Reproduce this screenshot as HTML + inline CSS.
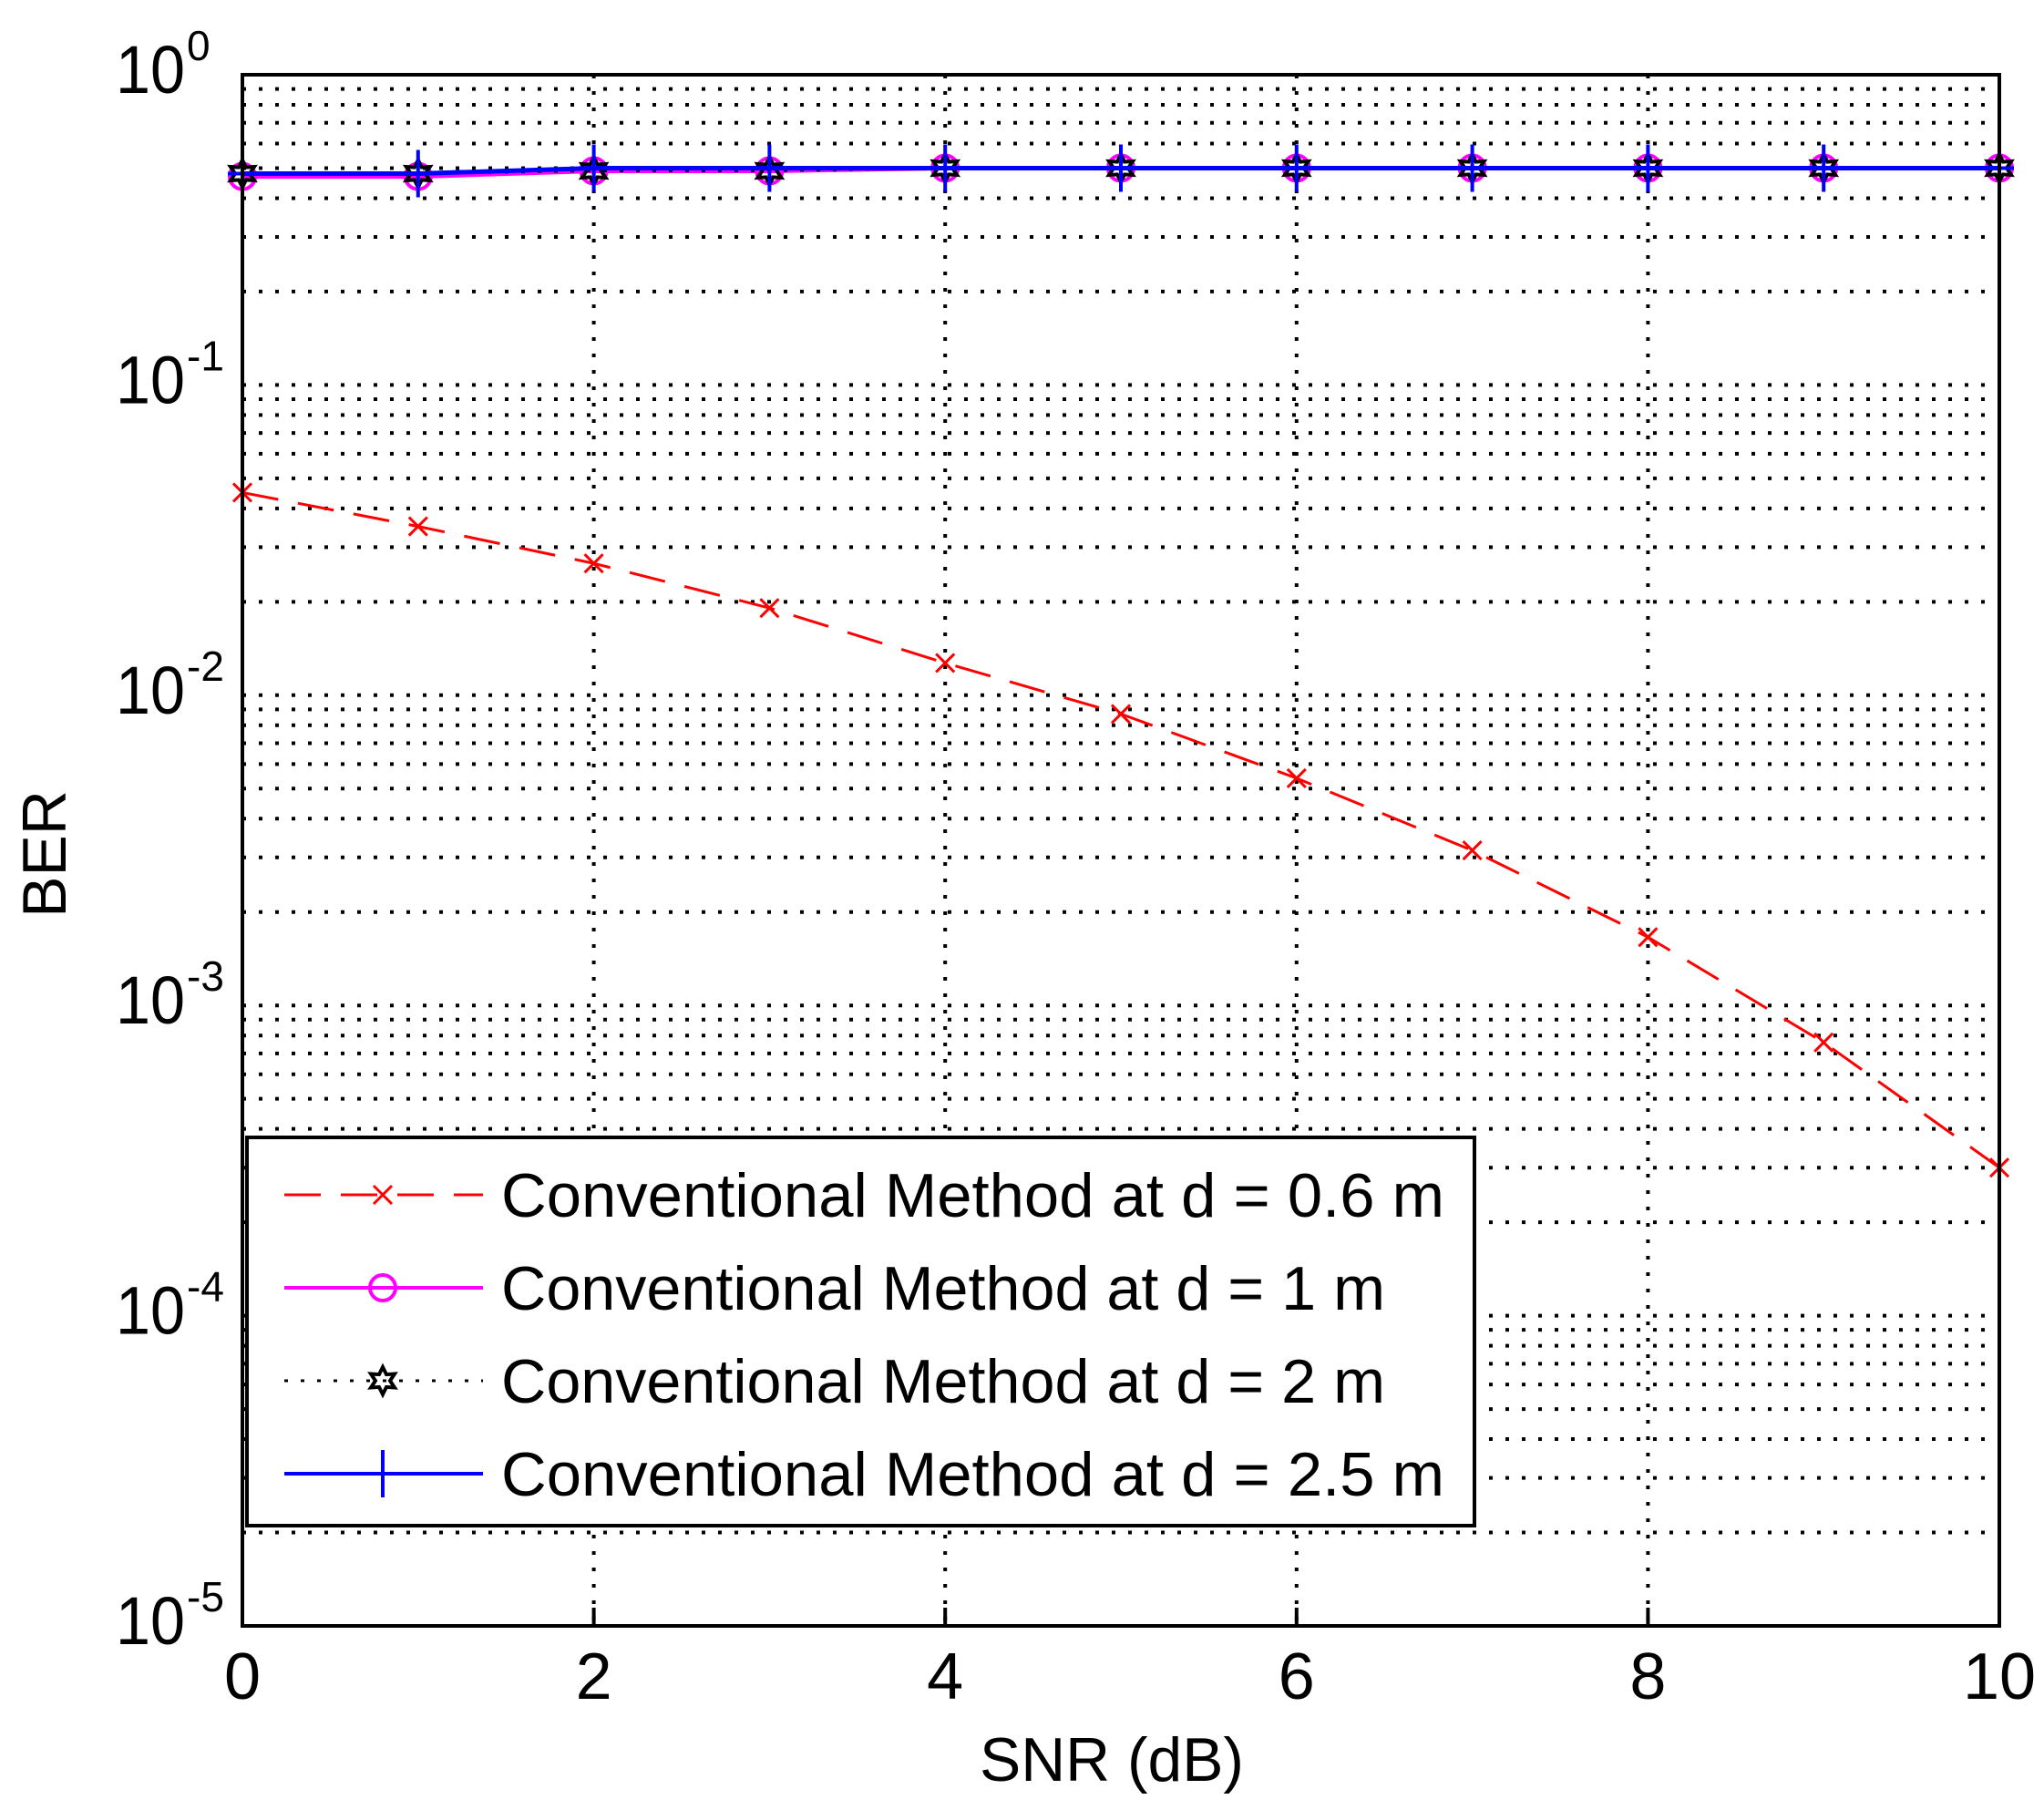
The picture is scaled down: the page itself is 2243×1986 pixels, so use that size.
<!DOCTYPE html>
<html><head><meta charset="utf-8"><style>html,body{margin:0;padding:0;background:#fff}svg{display:block}</style></head>
<body>
<svg id="chart" xmlns="http://www.w3.org/2000/svg" width="2243" height="1986" viewBox="0 0 2243 1986" font-family="'Liberation Sans', sans-serif">
<rect width="2243" height="1986" fill="#fff"/>
<g id="grid"></g>
<g id="series"></g>
<rect x="266" y="82" width="1928" height="1702" fill="none" stroke="#000" stroke-width="4"/>
<g id="ticks"></g>
<text x="1220" y="1954" font-size="68" text-anchor="middle" textLength="290" lengthAdjust="spacingAndGlyphs">SNR (dB)</text>
<text transform="translate(72,937) rotate(-90)" font-size="68" text-anchor="middle">BER</text>
<g id="legend"></g>
</svg>
<script>
const snr = [0,1,2,3,4,5,6,7,8,9,10];
const ber06 = [0.045,0.035,0.0266,0.0191,0.0127,0.0087,0.0054,0.00316,0.00166,0.00076,0.0003];
const ber1 = [0.47,0.47,0.49,0.49,0.5,0.5,0.5,0.5,0.5,0.5,0.5];
const ber2 = [0.48,0.48,0.49,0.49,0.5,0.5,0.5,0.5,0.5,0.5,0.5];
const ber25 = [0.48,0.48,0.5,0.5,0.5,0.5,0.5,0.5,0.5,0.5,0.5];
const xTicks = [0,2,4,6,8,10];
const yExps = [0,-1,-2,-3,-4,-5];
const legendLabels = ["Conventional Method at d = 0.6 m","Conventional Method at d = 1 m","Conventional Method at d = 2 m","Conventional Method at d = 2.5 m"];

const L=266,R=2194,T=82,B=1784;
const xs=v=>L+(v-0)/(10-0)*(R-L);
const ys=v=>T+(0-Math.log10(v))/5*(B-T);
const NS="http://www.w3.org/2000/svg";
function mk(tag,attrs,parent){const e=document.createElementNS(NS,tag);for(const k in attrs)e.setAttribute(k,attrs[k]);parent.appendChild(e);return e;}
const grid=document.getElementById('grid'),ticks=document.getElementById('ticks'),ser=document.getElementById('series'),leg=document.getElementById('legend');
xTicks.forEach(v=>{if(v>0&&v<10){const g=mk('line',{x1:xs(v),x2:xs(v),y1:T,y2:B,stroke:'#000','stroke-width':4,'stroke-dasharray':'4 14'},grid);

}
const t=mk('line',{x1:xs(v),x2:xs(v),y1:B,y2:B-20,stroke:'#000','stroke-width':4},ticks);


const tl=mk('text',{x:xs(v),y:1864,'font-size':72,'text-anchor':'middle'},ticks);tl.textContent=v;

});
for(let d=0;d>-5;d--){for(let m=1;m<10;m++){const v=m*Math.pow(10,d-1);const y=ys(v);if(y<=T+1)continue;
const g=mk('line',{x1:L,x2:R,y1:y,y2:y,stroke:'#000','stroke-width':4,'stroke-dasharray':'4 14'},grid);

}}
yExps.forEach(e=>{const y=ys(Math.pow(10,e));
const t=mk('text',{x:203,y:y+20,'font-size':74,'text-anchor':'end',textLength:76,lengthAdjust:'spacingAndGlyphs'},ticks);t.textContent='10';


const s=mk('text',{x:205,y:y-16,'font-size':46},ticks);s.textContent=String(e);

});
function pts(arr){return snr.map((x,i)=>xs(x)+','+ys(arr[i])).join(' ');}
function marker(kind,cx,cy,color,parent){
 if(kind==='x'){mk('path',{d:`M${cx-10},${cy-10}L${cx+10},${cy+10}M${cx-10},${cy+10}L${cx+10},${cy-10}`,stroke:color,'stroke-width':3,fill:'none'},parent);}
 else if(kind==='o'){mk('circle',{cx,cy,r:14,stroke:color,'stroke-width':4,fill:'none'},parent);}
 else if(kind==='h'){let p='';for(let i=0;i<12;i++){const r=i%2?8:15,a=Math.PI/2+i*Math.PI/6;p+=(i?'L':'M')+(cx+r*Math.cos(a)).toFixed(1)+','+(cy+r*Math.sin(a)).toFixed(1);}mk('path',{d:p+'Z',stroke:color,'stroke-width':4,fill:'none'},parent);}
 else if(kind==='+'){mk('path',{d:`M${cx-16},${cy}L${cx+16},${cy}M${cx},${cy-26}L${cx},${cy+26}`,stroke:color,'stroke-width':4},parent);}
}
const defs=[[ber1,'#ff00ff','o',null,5],[ber2,'#000','h','4 14',3],[ber25,'#0000ff','+',null,5],[ber06,'#ff0000','x','40 22',3]];
const names=['series-d1','series-d2','series-d25','series-d06'];
defs.forEach((d,k)=>{const g=mk('g',{},ser);


const a={points:pts(d[0]),fill:'none',stroke:d[1],'stroke-width':d[4]};if(d[3])a['stroke-dasharray']=d[3];mk('polyline',a,g);
snr.forEach((x,i)=>marker(d[2],xs(x),ys(d[0][i]),d[1],g));});
const lb=mk('rect',{x:271,y:1248,width:1347,height:426,fill:'#fff',stroke:'#000','stroke-width':4},leg);


const legDefs=[['#ff0000','x','40 22',3],['#ff00ff','o',null,4],['#000','h','4 14',3],['#0000ff','+',null,4]];
legendLabels.forEach((lab,i)=>{const y=1311+i*102;const g=mk('g',{},leg);


const d=legDefs[i];const a={x1:312,x2:530,y1:y,y2:y,stroke:d[0],'stroke-width':d[3]};if(d[2])a['stroke-dasharray']=d[2];mk('line',a,g);
marker(d[1],420,y,d[0],g);
const t=mk('text',{x:550,y:y+24,'font-size':68,textLength:[1035,970,970,1035][i],lengthAdjust:'spacingAndGlyphs'},g);t.textContent=lab;});
</script>
</body></html>
